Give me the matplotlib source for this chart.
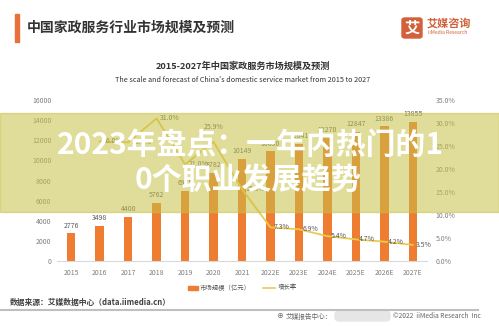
import numpy as np
import matplotlib
matplotlib.use('Agg')
import matplotlib.pyplot as plt
from matplotlib.patches import Rectangle, FancyBboxPatch
from matplotlib.lines import Line2D

plt.rcParams['font.family'] = ['Noto Sans CJK SC', 'DejaVu Sans']

# data
years = ['2015', '2016', '2017', '2018', '2019', '2020', '2021',
         '2022E', '2023E', '2024E', '2025E', '2026E', '2027E']
market = [2776, 3498, 4400, 5762, 6975, 8782, 10149,
          10890, 11641, 12270, 12847, 13386, 13855]
growth = [np.nan, 26.0, 25.8, 31.0, 21.0, 25.9, 15.6,
          7.3, 6.9, 5.4, 4.7, 4.2, 3.5]

W, H = 499, 326
orange = '#EE7D31'
yellow = '#EBCB4F'
grey = '#595959'


def fx(x):
    return x / W


def fy(y):
    return 1 - y / H


fig = plt.figure(figsize=(W / 100, H / 100), dpi=100)
fig.patch.set_facecolor('white')

ax = fig.add_axes([fx(57), fy(261), 370 / W, 161 / H])
x = np.arange(len(years))
bars = ax.bar(x, market, width=0.3, color=orange, zorder=2)
for xi, v in zip(x, market):
    ax.text(xi, v + 350, str(v), ha='center', va='bottom', fontsize=5, color=grey)

ax.set_xlim(-0.5, len(years) - 0.5)
ax.set_ylim(0, 16000)
ax.set_yticks(range(0, 16001, 2000))
ax.set_xticks(x)
ax.set_xticklabels(years)
ax.tick_params(axis='both', length=0, labelsize=5, colors='#7f7f7f', pad=4)
ax.tick_params(axis='x', pad=6)
for s in ['top', 'right', 'left']:
    ax.spines[s].set_visible(False)
ax.spines['bottom'].set_color('#d9d9d9')
ax.spines['bottom'].set_linewidth(0.8)

ax2 = ax.twinx()
ax2.plot(x, growth, color=yellow, lw=1.3, zorder=3)
ax2.set_ylim(0, 0.35 * 100)
ax2.set_yticks(np.arange(0, 35.1, 5))
ax2.set_yticklabels([f'{t:.1f}%' for t in np.arange(0, 35.1, 5)])
ax2.tick_params(axis='y', length=0, labelsize=5, colors='#7f7f7f', pad=6)
for s in ax2.spines.values():
    s.set_visible(False)

# growth labels, mostly right of the point
offsets = {5: (-0.35, 3.2)}
for xi, g in zip(x, growth):
    if np.isnan(g):
        continue
    dx, dy = offsets.get(xi, (0.12, 0))
    ax2.text(xi + dx, g + dy, f'{g:.1f}%', ha='left', va='center',
             fontsize=5, color=grey, zorder=4)

# legend
fig.patches.append(Rectangle((fx(188), fy(289.5)), 10 / W, 4 / H,
                             transform=fig.transFigure, color=orange))
fig.text(fx(200), fy(287.5), '市场规模（亿元）', fontsize=4.6, color=grey, va='center')
fig.lines.append(Line2D([fx(263), fx(275)], [fy(287.5), fy(287.5)],
                        transform=fig.transFigure, color=yellow, lw=1.2))
fig.text(fx(278), fy(287.5), '增长率', fontsize=4.6, color=grey, va='center')

# header
fig.patches.append(Rectangle((fx(15), fy(42)), 4 / W, 28 / H,
                             transform=fig.transFigure, color='#E8703A'))
fig.text(fx(27), fy(28), '中国家政服务行业市场规模及预测', fontsize=10,
         color='#333333', va='center', fontweight='bold')
fig.patches.append(FancyBboxPatch((fx(402), fy(38)), 20 / W, 20 / H,
                                  boxstyle='round,pad=0,rounding_size=0.006',
                                  transform=fig.transFigure, color='#D2603A'))
fig.text(fx(412), fy(28), '艾', fontsize=11, color='white', ha='center',
         va='center', fontweight='bold')
fig.text(fx(427), fy(23), '艾媒咨询', fontsize=8, color='#D2603A', va='center',
         fontweight='bold')
fig.text(fx(428), fy(33), 'iiMedia Research', fontsize=3.6, color='#D2603A', va='center')

fig.text(fx(243), fy(66), '2015-2027年中国家政服务市场规模及预测', fontsize=6.6,
         color='#333333', ha='center', va='center', fontweight='bold')
fig.text(fx(243), fy(80),
         "The scale and forecast of China's domestic service market from 2015 to 2027",
         fontsize=5.2, color='#333333', ha='center', va='center')

# footer
fig.text(fx(10), fy(302), '数据来源：艾媒数据中心（data.iimedia.cn）', fontsize=5.6,
         color='#404040', va='center', fontweight='bold')
fig.lines.append(Line2D([0, fx(478)], [fy(310), fy(310)], transform=fig.transFigure,
                        color='#bfbfbf', lw=1.5))
fig.text(fx(280), fy(316.5), '⊕', fontsize=5, color='#666666', ha='center', va='center')
fig.text(fx(286), fy(316.5), '艾媒报告中心：', fontsize=4.8, color='#666666', va='center')
fig.patches.append(FancyBboxPatch((fx(335), fy(321)), 55 / W, 10 / H,
                                  boxstyle='round,pad=0,rounding_size=0.01',
                                  transform=fig.transFigure, color='#e6e6e6'))
fig.text(fx(393), fy(316.5), '©2022  iiMedia Research  Inc', fontsize=4.8,
         color='#666666', va='center')

# translucent band with headline
fig.patches.append(Rectangle((0, fy(212)), 1, 99 / H, transform=fig.transFigure,
                             color='#C8C048', alpha=0.55, zorder=5))
fig.text(fx(250), fy(145), '2023年盘点：一年内热门的1', fontsize=21.5, color='white',
         ha='center', va='center', fontweight='bold', zorder=6)
fig.text(fx(248), fy(180), '0个职业发展趋势', fontsize=21.5, color='white',
         ha='center', va='center', fontweight='bold', zorder=6)

fig.savefig('out.png', dpi=100)
